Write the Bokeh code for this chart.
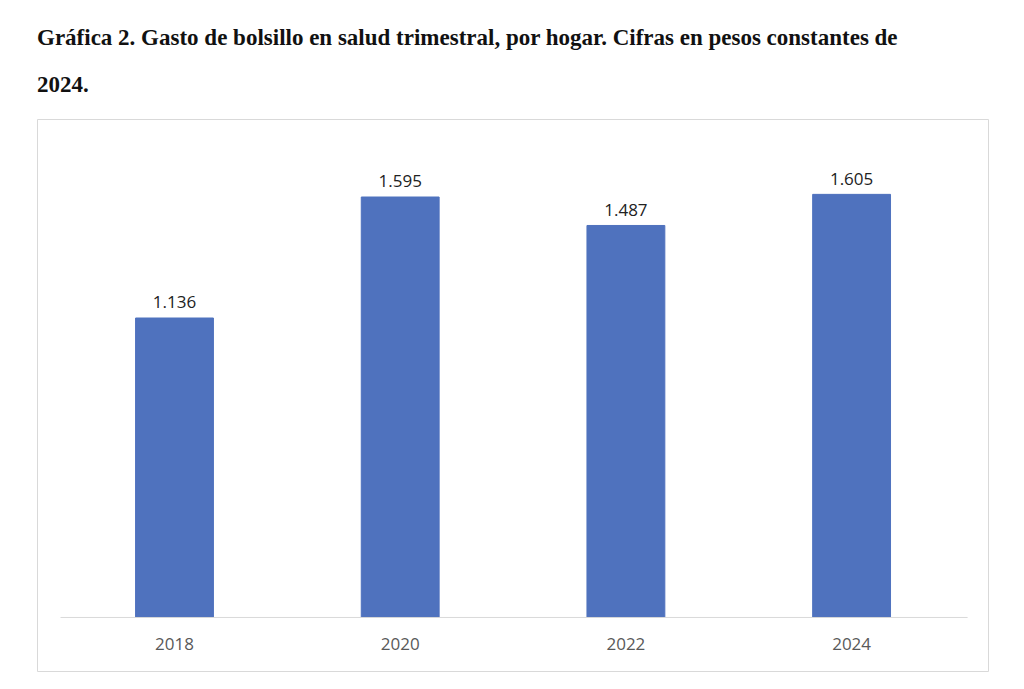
from bokeh.plotting import figure
from bokeh.models import Div, ColumnDataSource
from bokeh.layouts import column
from bokeh.core.properties import value
from bokeh.embed import file_html
from bokeh.resources import INLINE

years = ["2018", "2020", "2022", "2024"]
values = [1.136, 1.595, 1.487, 1.605]
labels = ["1.136", "1.595", "1.487", "1.605"]

xs = list(range(len(years)))
src = ColumnDataSource(dict(x=xs, top=values, lab=labels, yr=years,
                            ly=[v + 0.06 for v in values], yy=[-0.1] * len(years)))

title = Div(text="Gráfica 2. Gasto de bolsillo en salud trimestral, por hogar. Cifras en pesos constantes de<br>2024.",
            width=1000, height=100,
            styles={"font-family": "'Liberation Serif', serif", "font-weight": "bold",
                    "font-size": "23px", "line-height": "47px", "color": "#111",
                    "margin-left": "37px", "margin-top": "14px", "white-space": "nowrap"})

p = figure(width=952, height=553, output_backend="svg", toolbar_location=None,
           x_range=(-0.607, 3.611), y_range=(-0.2087, 1.889),
           min_border=0, min_border_left=0, min_border_right=0, min_border_top=0, min_border_bottom=0,
           margin=(0, 0, 0, 37))
p.axis.visible = False
p.grid.visible = False
p.outline_line_color = "#d9d9d9"
p.outline_line_width = 1

p.vbar(x="x", top="top", bottom=0, width=0.345, color="#4F72BE", source=src)
p.segment(x0=[-0.505], x1=[3.514], y0=[0], y1=[0], line_color="#d9d9d9", line_width=1)
p.text(x="x", y="ly", text="lab", source=src, text_align="center", text_baseline="middle",
       text_font=value("Open Sans"), text_font_size="17px", text_color="#222222")
p.text(x="x", y="yy", text="yr", source=src, text_align="center", text_baseline="middle",
       text_font=value("Open Sans"), text_font_size="17px", text_color="#595959")

layout = column(title, p, spacing=0)
open("out.html", "w").write(file_html(layout, INLINE))
